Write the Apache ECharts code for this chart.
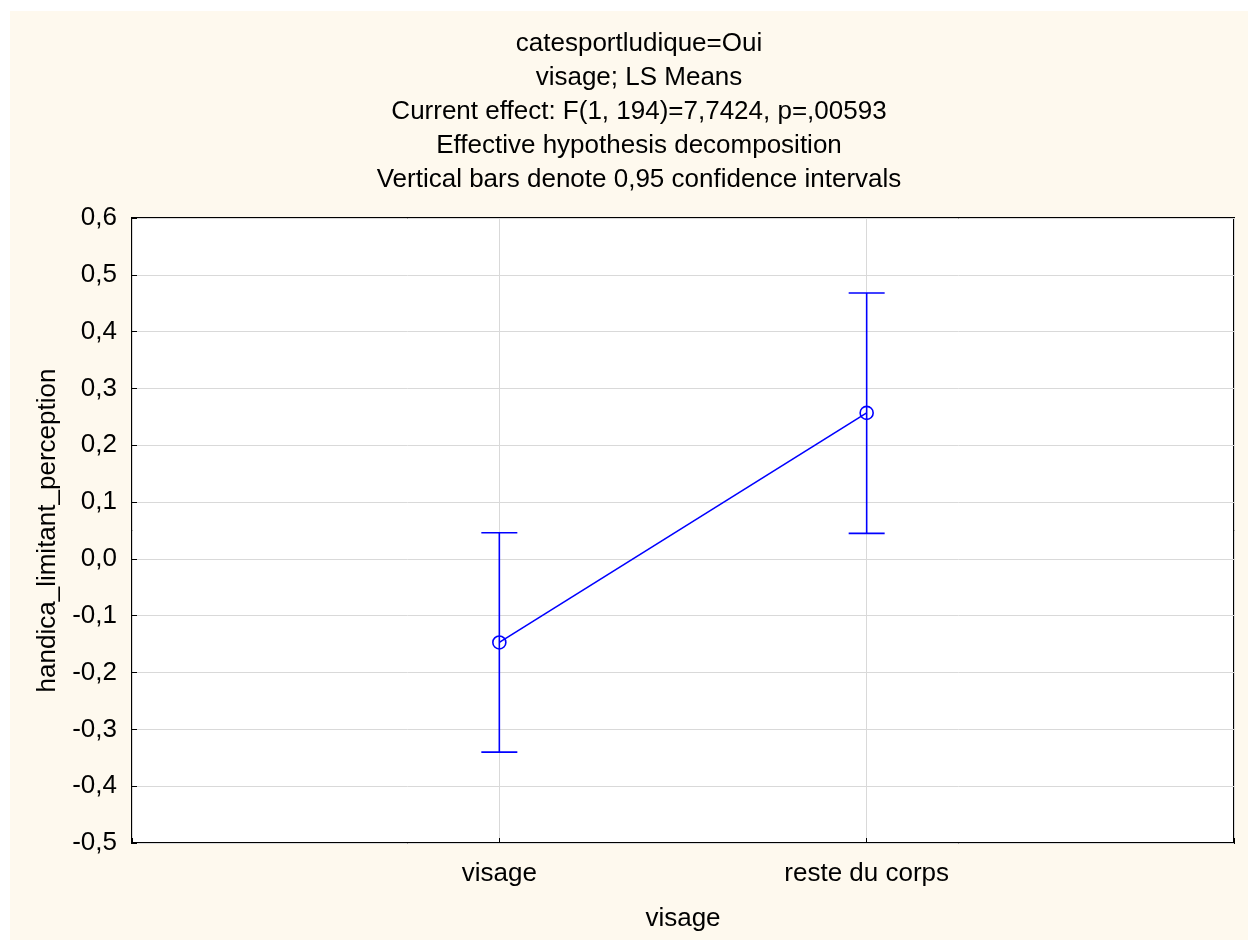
<!DOCTYPE html>
<html>
<head>
<meta charset="utf-8">
<script src="https://cdn.jsdelivr.net/npm/echarts@6/dist/echarts.min.js"></script>
<style>
html,body{margin:0;padding:0;background:#fff;}
#c{width:1248px;height:940px;}
</style>
</head>
<body>
<div id="c"></div>
<script>
const titleLines = [
  'catesportludique=Oui',
  'visage; LS Means',
  'Current effect: F(1, 194)=7,7424, p=,00593',
  'Effective hypothesis decomposition',
  'Vertical bars denote 0,95 confidence intervals'
];
const categories = ['visage', 'reste du corps'];
const means = [-0.147, 0.257];
const lower = [-0.340, 0.045];
const upper = [0.046, 0.468];
const yName = 'handica_limitant_perception';
const xName = 'visage';

const FONT = '"Liberation Sans", Arial, sans-serif';
const FS = 26;
const BLUE = '#0000ff';

// category axis with empty padding slots on each side
const axisCats = [''].concat(categories, ['']);
const lineData = categories.map((c, i) => [i + 1, means[i]]);
const errData = categories.map((c, i) => [i + 1, lower[i], upper[i]]);

const chart = echarts.init(document.getElementById('c'), null, {renderer: 'canvas'});
chart.setOption({
  backgroundColor: '#ffffff',
  animation: false,
  graphic: [{
    type: 'rect', z: -10, silent: true,
    shape: {x: 10, y: 11, width: 1238, height: 929},
    style: {fill: '#fef9ee'}
  }],
  title: {
    text: titleLines.join('\n'),
    left: 634, top: 22, textAlign: 'center',
    textStyle: {fontFamily: FONT, fontSize: FS, fontWeight: 'normal', color: '#000', lineHeight: 34}
  },
  grid: {
    left: 132, top: 218, width: 1102, height: 625,
    outerBoundsMode: 'none', containLabel: false,
    show: true, backgroundColor: '#ffffff', borderColor: '#000', borderWidth: 2
  },
  xAxis: {
    type: 'category', data: axisCats, boundaryGap: false,
    name: xName, nameLocation: 'middle', nameGap: 63,
    nameTextStyle: {fontFamily: FONT, fontSize: FS, color: '#000'},
    axisLine: {show: false, onZero: false},
    axisTick: {show: true, inside: true, length: 5, lineStyle: {color: '#000'}},
    axisLabel: {fontFamily: FONT, fontSize: FS, color: '#000', margin: 18, interval: 0},
    splitLine: {show: true, lineStyle: {color: '#d9d9d9', width: 1}}
  },
  yAxis: {
    type: 'value', min: -0.5, max: 0.6, interval: 0.1,
    name: yName, nameLocation: 'middle', nameGap: 70, nameRotate: 90,
    nameTextStyle: {fontFamily: FONT, fontSize: FS, color: '#000'},
    axisLine: {show: false, onZero: false},
    axisTick: {show: true, inside: true, length: 5, lineStyle: {color: '#000'}},
    axisLabel: {fontFamily: FONT, fontSize: FS, color: '#000', margin: 15,
      formatter: v => (Math.round(v * 10) / 10).toFixed(1).replace('-0.0', '0.0').replace('.', ',')},
    splitLine: {show: true, lineStyle: {color: '#d9d9d9', width: 1}}
  },
  series: [
    {
      type: 'custom',
      data: errData,
      z: 3,
      renderItem: function (params, api) {
        const x = api.value(0);
        const pLo = api.coord([x, api.value(1)]);
        const pHi = api.coord([x, api.value(2)]);
        const hw = 18;
        const st = {stroke: BLUE, lineWidth: 1.6};
        return {
          type: 'group',
          children: [
            {type: 'line', shape: {x1: pLo[0], y1: pLo[1], x2: pHi[0], y2: pHi[1]}, style: st},
            {type: 'line', shape: {x1: pLo[0] - hw, y1: pLo[1], x2: pLo[0] + hw, y2: pLo[1]}, style: st},
            {type: 'line', shape: {x1: pHi[0] - hw, y1: pHi[1], x2: pHi[0] + hw, y2: pHi[1]}, style: st}
          ]
        };
      }
    },
    {
      type: 'line',
      data: lineData,
      z: 4,
      symbol: 'circle',
      symbolSize: 13,
      showAllSymbol: true,
      lineStyle: {color: BLUE, width: 1.6},
      itemStyle: {color: 'rgba(0,0,0,0)', borderColor: BLUE, borderWidth: 1.6}
    }
  ]
});
</script>
</body>
</html>
